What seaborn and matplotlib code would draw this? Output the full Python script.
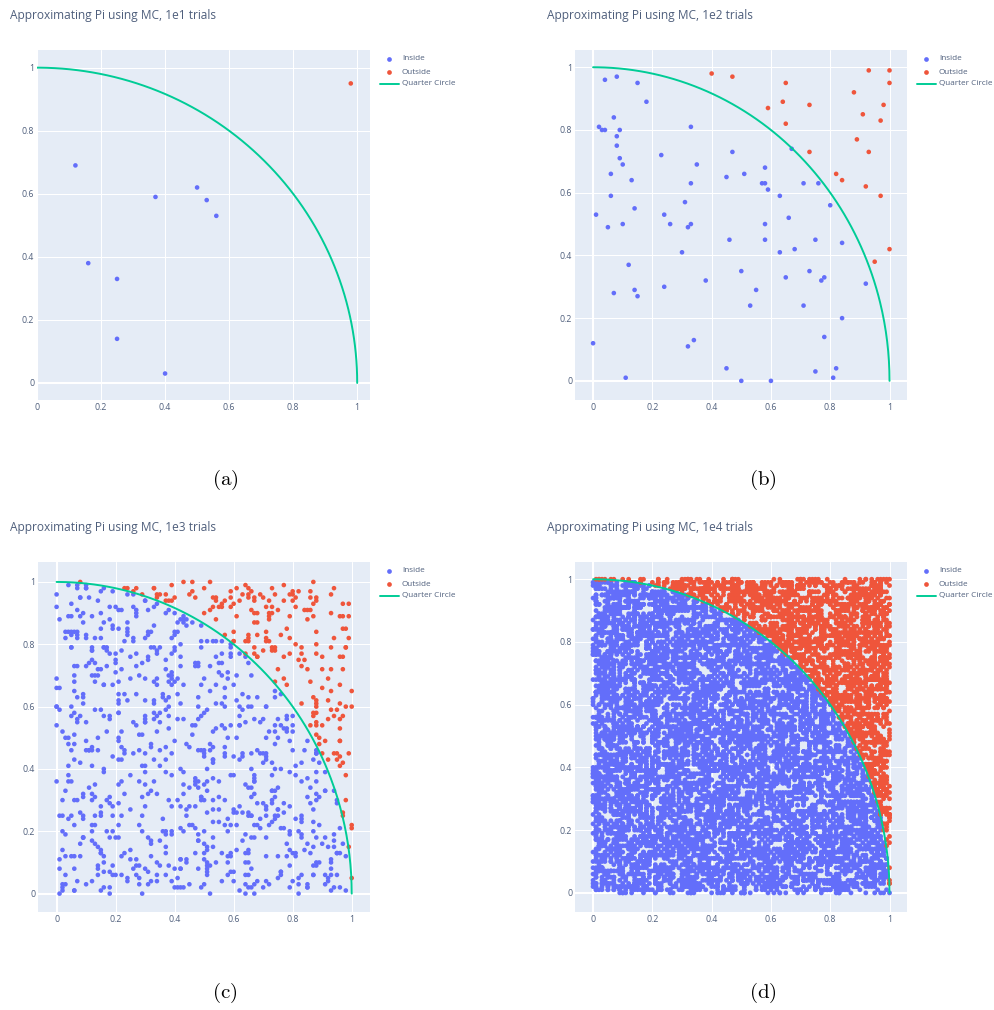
import numpy as np
import pandas as pd
import matplotlib
matplotlib.use("Agg")
import matplotlib.pyplot as plt
import seaborn as sns
from matplotlib.lines import Line2D

sns.set_style("white")
plt.rcParams['font.family'] = ['Open Sans', 'DejaVu Sans']
plt.rcParams['mathtext.fontset'] = 'cm'

W, H = 995, 1010
C_IN, C_OUT, C_LINE = "#636EFA", "#EF553B", "#00CC96"
BG, TXT = "#E5ECF6", "#4f5f7c"

# panel (a): 10 trials
a_in_x = [0.12, 0.16, 0.25, 0.25, 0.37, 0.40, 0.50, 0.53, 0.56]
a_in_y = [0.69, 0.38, 0.33, 0.14, 0.59, 0.03, 0.62, 0.58, 0.53]
a_out_x = [0.98]
a_out_y = [0.95]

# panel (b): 100 trials
b_in_x = [0.04, 0.08, 0.15, 0.18, 0.07, 0.02, 0.03, 0.04, 0.09, 0.08, 0.33, 0.08, 0.09, 0.10, 0.23, 0.35,
          0.47, 0.06, 0.13, 0.33, 0.45, 0.06, 0.31, 0.14, 0.01, 0.24, 0.05, 0.10, 0.26, 0.32, 0.33,
          0.67, 0.58, 0.51, 0.57, 0.58, 0.71, 0.76, 0.59, 0.63, 0.80, 0.66, 0.58,
          0.46, 0.30, 0.12, 0.38, 0.50, 0.07, 0.14, 0.15, 0.24, 0.00, 0.32, 0.34, 0.11, 0.45, 0.50,
          0.58, 0.75, 0.63, 0.68, 0.84, 0.65, 0.73, 0.78, 0.77, 0.92, 0.55, 0.53, 0.71, 0.84, 0.78,
          0.75, 0.82, 0.81, 0.60]
b_in_y = [0.96, 0.97, 0.95, 0.89, 0.84, 0.81, 0.80, 0.80, 0.80, 0.78, 0.81, 0.75, 0.71, 0.69, 0.72, 0.69,
          0.73, 0.66, 0.64, 0.63, 0.65, 0.59, 0.57, 0.55, 0.53, 0.53, 0.49, 0.50, 0.50, 0.49, 0.50,
          0.74, 0.68, 0.66, 0.63, 0.63, 0.63, 0.63, 0.61, 0.59, 0.56, 0.52, 0.50,
          0.45, 0.41, 0.37, 0.32, 0.35, 0.28, 0.29, 0.27, 0.30, 0.12, 0.11, 0.13, 0.01, 0.04, 0.00,
          0.45, 0.45, 0.41, 0.42, 0.44, 0.33, 0.35, 0.33, 0.32, 0.31, 0.29, 0.24, 0.24, 0.20, 0.14,
          0.03, 0.04, 0.01, 0.00]
b_out_x = [0.40, 0.47, 0.93, 1.00, 1.00, 0.65, 0.88, 0.64, 0.73, 0.59, 0.98, 0.91, 0.97, 0.65, 0.89,
           0.73, 0.93, 0.82, 0.84, 0.92, 0.97, 1.00, 0.95]
b_out_y = [0.98, 0.97, 0.99, 0.99, 0.95, 0.95, 0.92, 0.89, 0.88, 0.87, 0.88, 0.85, 0.83, 0.82, 0.77,
           0.73, 0.73, 0.66, 0.64, 0.62, 0.59, 0.42, 0.38]

# panels (c) and (d): 1e3 / 1e4 trials are too many to read one by one,
# so they are stand-in samples on the same 0.01 grid
def mc_points(n, seed):
    rng = np.random.default_rng(seed)
    x = np.round(rng.random(n), 2)
    y = np.round(rng.random(n), 2)
    inside = x ** 2 + y ** 2 <= 1
    return x[inside], y[inside], x[~inside], y[~inside]

c_in_x, c_in_y, c_out_x, c_out_y = mc_points(1000, 3)
d_in_x, d_in_y, d_out_x, d_out_y = mc_points(10000, 7)

titles = ["Approximating Pi using MC, 1e1 trials", "Approximating Pi using MC, 1e2 trials",
          "Approximating Pi using MC, 1e3 trials", "Approximating Pi using MC, 1e4 trials"]
captions = ["(a)", "(b)", "(c)", "(d)"]
legend_labels = ["Inside", "Outside", "Quarter Circle"]
ticks = [0, 0.2, 0.4, 0.6, 0.8, 1]
tick_labels = ["0", "0.2", "0.4", "0.6", "0.8", "1"]

theta = np.linspace(0, np.pi / 2, 200)
circle_x, circle_y = np.cos(theta), np.sin(theta)

# (left, top, right, bottom) in pixels, axis limits, title pos, caption pos
panels = [
    dict(box=(37, 50, 370, 400), xlim=(0, 1.04), ylim=(-0.054, 1.056), title=(10, 14), cap=(225, 480),
         size=11, data=(a_in_x, a_in_y, a_out_x, a_out_y)),
    dict(box=(575, 50, 907, 400), xlim=(-0.061, 1.059), ylim=(-0.061, 1.055), title=(547, 14), cap=(763, 480),
         size=11, data=(b_in_x, b_in_y, b_out_x, b_out_y)),
    dict(box=(38, 562, 370, 912), xlim=(-0.063, 1.062), ylim=(-0.059, 1.064), title=(10, 526), cap=(225, 993),
         size=11, data=(c_in_x, c_in_y, c_out_x, c_out_y)),
    dict(box=(575, 562, 907, 912), xlim=(-0.061, 1.059), ylim=(-0.061, 1.055), title=(547, 526), cap=(763, 993),
         size=12, data=(d_in_x, d_in_y, d_out_x, d_out_y)),
]

fig = plt.figure(figsize=(W / 100, H / 100), dpi=100)
fig.patch.set_facecolor("white")

for i, p in enumerate(panels):
    l, t, r, b = p["box"]
    ax = fig.add_axes([l / W, 1 - b / H, (r - l) / W, (b - t) / H])
    ax.set_facecolor(BG)
    for s in ax.spines.values():
        s.set_visible(False)

    xin, yin, xout, yout = p["data"]
    df = pd.DataFrame({
        "x": list(xin) + list(xout),
        "y": list(yin) + list(yout),
        "where": ["Inside"] * len(xin) + ["Outside"] * len(xout),
    })
    sns.scatterplot(data=df, x="x", y="y", hue="where", palette={"Inside": C_IN, "Outside": C_OUT},
                    s=p["size"], linewidth=0, legend=False, ax=ax, zorder=2)
    sns.lineplot(x=circle_x, y=circle_y, sort=False, estimator=None, color=C_LINE, lw=1.4, ax=ax, zorder=3)

    ax.set_xlim(*p["xlim"])
    ax.set_ylim(*p["ylim"])
    ax.set_xticks(ticks)
    ax.set_xticklabels(tick_labels)
    ax.set_yticks(ticks)
    ax.set_yticklabels(tick_labels)
    ax.set_xlabel("")
    ax.set_ylabel("")
    ax.tick_params(length=0, labelsize=6.3, labelcolor=TXT, pad=2)
    ax.set_axisbelow(True)
    ax.grid(color="white", lw=0.75)
    ax.axhline(0, color="white", lw=1.5, zorder=1)
    ax.axvline(0, color="white", lw=1.5, zorder=1)

    tx, ty = p["title"]
    fig.text(tx / W, 1 - (ty + 1) / H, titles[i], fontsize=8.6, color=TXT, ha="left", va="center")

    cx, cy = p["cap"]
    fig.text(cx / W, 1 - cy / H, r"$\mathrm{" + captions[i] + "}$", fontsize=15, color="black",
             ha="center", va="center")

    # legend outside the plot, like plotly's
    rows = [t + 9, t + 22, t + 34]
    for j, lab in enumerate(legend_labels):
        yy = 1 - rows[j] / H
        if j < 2:
            fig.add_artist(Line2D([(r + 19) / W], [yy], marker="o", ms=3.4, mew=0, ls="none",
                                  color=[C_IN, C_OUT][j], transform=fig.transFigure))
        else:
            fig.add_artist(Line2D([(r + 10) / W, (r + 29) / W], [yy, yy], lw=1.4, color=C_LINE,
                                  transform=fig.transFigure))
        fig.text((r + 32) / W, yy, lab, fontsize=5.9, color=TXT, ha="left", va="center")

fig.savefig("out.png", dpi=100)
